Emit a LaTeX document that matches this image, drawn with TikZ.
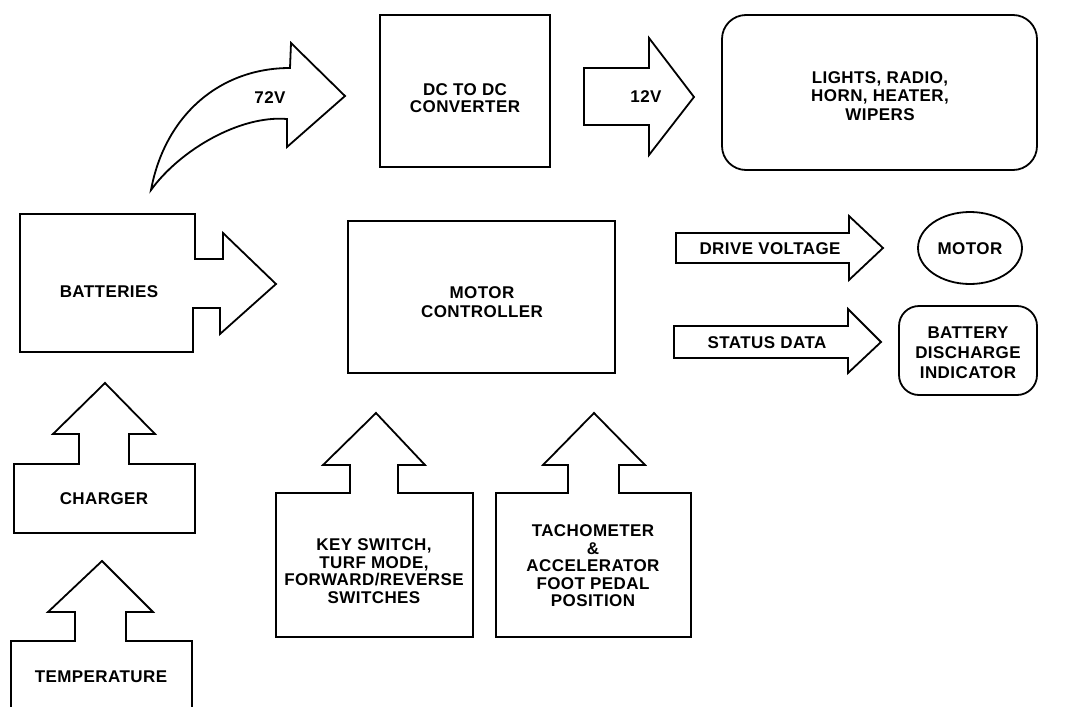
\documentclass[tikz,border=0pt]{standalone}
\usepackage{fontspec}
\setmainfont{Liberation Sans}[LetterSpace=2.5]
\begin{document}
\begin{tikzpicture}[x=1pt,y=-1pt,
  shp/.style={draw=black,line width=1.8pt,line join=miter},
  lbl/.style={font=\fontsize{17}{17.5}\selectfont\bfseries,align=center,inner sep=0pt}]
\useasboundingbox (0,0) rectangle (1088,707);
% curved 72V arrow
\draw[shp] (151,190) .. controls (165,115) and (220,68) .. (290,68)
  -- (291,43) -- (345,96) -- (287,147) -- (287,119)
  .. controls (240,115) and (180,150) .. (151,190) -- cycle;
\node[lbl] (v72) at (270,98) {72V};
% DC to DC converter
\draw[shp] (380,15) rectangle (550,167);
\node[lbl] (dcdc) at (465,98) {DC TO DC\\CONVERTER};
% 12V arrow
\draw[shp] (584,68) -- (649,68) -- (649,38) -- (694,97) -- (649,155) -- (649,125) -- (584,125) -- cycle;
\node[lbl] (v12) at (646,97) {12V};
% lights box
\draw[shp,rounded corners=24pt] (722,15) rectangle (1037,170);
\node[lbl,font=\fontsize{17}{18.5}\selectfont\bfseries] (lights) at (880,96) {LIGHTS, RADIO,\\HORN, HEATER,\\WIPERS};
% batteries
\draw[shp] (20,214) -- (195,214) -- (195,259) -- (223,259) -- (223,233) -- (276,284) -- (220,334) -- (220,308) -- (193,308) -- (193,352) -- (20,352) -- cycle;
\node[lbl] (batt) at (109,292) {BATTERIES};
% motor controller
\draw[shp] (348,221) rectangle (615,373);
\node[lbl,font=\fontsize{17}{19}\selectfont\bfseries] (mc) at (482,302) {MOTOR\\CONTROLLER};
% drive voltage arrow
\draw[shp] (676,233) -- (849,233) -- (849,216) -- (883,248) -- (849,280) -- (849,263) -- (676,263) -- cycle;
\node[lbl] (dv) at (770,249) {DRIVE VOLTAGE};
% motor
\draw[shp] (970,248) ellipse (52 and 36);
\node[lbl] (motor) at (970,249) {MOTOR};
% status data arrow
\draw[shp] (674,326) -- (848,326) -- (848,309) -- (881,342) -- (848,373) -- (848,358) -- (674,358) -- cycle;
\node[lbl] (sd) at (767,343) {STATUS DATA};
% battery discharge indicator
\draw[shp,rounded corners=20pt] (899,306) rectangle (1037,395);
\node[lbl,font=\fontsize{17}{20}\selectfont\bfseries] (bdi) at (968,353) {BATTERY\\DISCHARGE\\INDICATOR};
% charger
\draw[shp] (105,383) -- (155,434) -- (129,434) -- (129,464) -- (195,464) -- (195,533) -- (14,533) -- (14,464) -- (79,464) -- (79,434) -- (53,434) -- cycle;
\node[lbl] (chg) at (104,499) {CHARGER};
% temperature
\draw[shp] (11,708) -- (11,641) -- (75,641) -- (75,612) -- (48,612) -- (102,561) -- (153,612) -- (126,612) -- (126,641) -- (192,641) -- (192,708);
\node[lbl] (temp) at (101,677) {TEMPERATURE};
% key switch
\draw[shp] (376,413) -- (425,465) -- (398,465) -- (398,493) -- (473,493) -- (473,637) -- (276,637) -- (276,493) -- (350,493) -- (350,465) -- (323,465) -- cycle;
\node[lbl] (key) at (374,571) {KEY SWITCH,\\TURF MODE,\\FORWARD/REVERSE\\SWITCHES};
% tachometer
\draw[shp] (594,413) -- (645,465) -- (619,465) -- (619,493) -- (691,493) -- (691,637) -- (496,637) -- (496,493) -- (568,493) -- (568,465) -- (543,465) -- cycle;
\node[lbl] (tach) at (593,566) {TACHOMETER\\\&\\ACCELERATOR\\FOOT PEDAL\\POSITION};
\end{tikzpicture}
\end{document}
